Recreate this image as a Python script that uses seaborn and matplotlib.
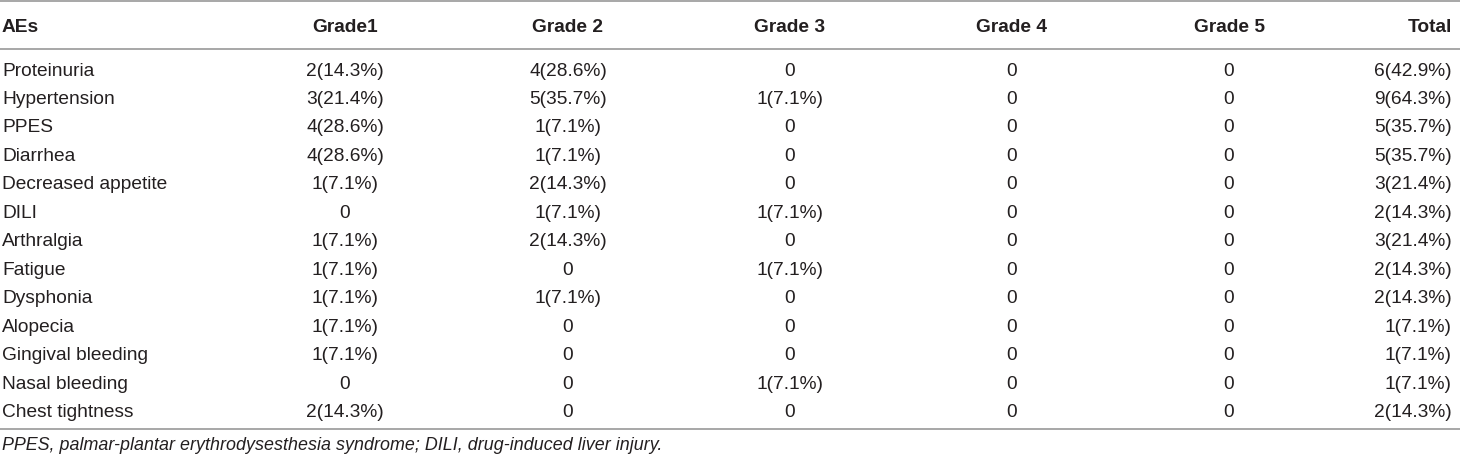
import matplotlib
matplotlib.use("Agg")
import matplotlib.pyplot as plt
import seaborn as sns
import pandas as pd

# table content
aes = ["Proteinuria", "Hypertension", "PPES", "Diarrhea", "Decreased appetite", "DILI",
       "Arthralgia", "Fatigue", "Dysphonia", "Alopecia", "Gingival bleeding",
       "Nasal bleeding", "Chest tightness"]
grade1 = ["2(14.3%)", "3(21.4%)", "4(28.6%)", "4(28.6%)", "1(7.1%)", "0", "1(7.1%)",
          "1(7.1%)", "1(7.1%)", "1(7.1%)", "1(7.1%)", "0", "2(14.3%)"]
grade2 = ["4(28.6%)", "5(35.7%)", "1(7.1%)", "1(7.1%)", "2(14.3%)", "1(7.1%)", "2(14.3%)",
          "0", "1(7.1%)", "0", "0", "0", "0"]
grade3 = ["0", "1(7.1%)", "0", "0", "0", "1(7.1%)", "0", "1(7.1%)", "0", "0", "0",
          "1(7.1%)", "0"]
grade4 = ["0"] * 13
grade5 = ["0"] * 13
total = ["6(42.9%)", "9(64.3%)", "5(35.7%)", "5(35.7%)", "3(21.4%)", "2(14.3%)", "3(21.4%)",
         "2(14.3%)", "2(14.3%)", "1(7.1%)", "1(7.1%)", "1(7.1%)", "2(14.3%)"]
headers = ["AEs", "Grade1", "Grade 2", "Grade 3", "Grade 4", "Grade 5", "Total"]
footnote = "PPES, palmar-plantar erythrodysesthesia syndrome; DILI, drug-induced liver injury."

df = pd.DataFrame({"AEs": aes, "Grade1": grade1, "Grade 2": grade2, "Grade 3": grade3,
                   "Grade 4": grade4, "Grade 5": grade5, "Total": total})

sns.set_theme(style="white")
plt.rcParams["font.family"] = ["Liberation Sans", "DejaVu Sans"]

# layout (pixel units)
col_x = [2, 345, 568, 790, 1012, 1229, 1452]
col_ha = ["left", "center", "center", "center", "center", "center", "right"]
header_y = 27
row_y0 = 71
row_step = 28.5
txt_color = "#231f20"
line_color = "#a0a0a0"
fs = 13.8

fig = plt.figure(figsize=(14.6, 4.6), dpi=100)
ax = fig.add_axes([0, 0, 1, 1])
ax.set_xlim(0, 1460)
ax.set_ylim(460, 0)
ax.axis("off")

for x, ha, h in zip(col_x, col_ha, headers):
    ax.text(x, header_y, h, ha=ha, va="center", fontsize=fs, fontweight="bold", color=txt_color)

for i, row in df.iterrows():
    y = row_y0 + i * row_step
    for x, ha, h in zip(col_x, col_ha, headers):
        ax.text(x, y, row[h], ha=ha, va="center", fontsize=fs, color=txt_color)

for y in [1.5, 50, 430]:
    ax.axhline(y, color=line_color, linewidth=1.3)

ax.text(2, 446, footnote, ha="left", va="center", fontsize=12.9, style="italic", color=txt_color)

fig.savefig("out.png", dpi=100)
